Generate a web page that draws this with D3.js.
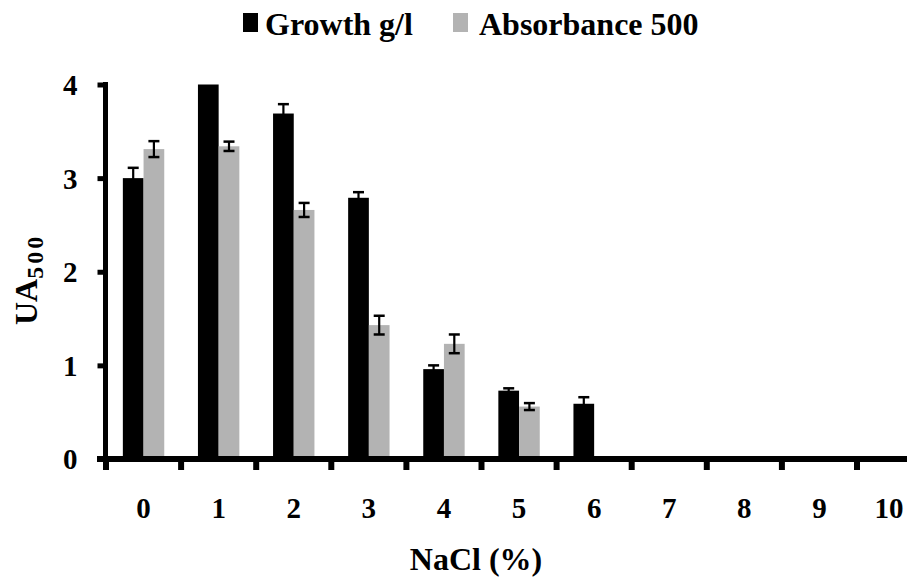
<!DOCTYPE html>
<html>
<head>
<meta charset="utf-8">
<script src="https://cdn.jsdelivr.net/npm/d3@7"></script>
<style>
  html, body { margin: 0; padding: 0; background: #fff; }
  svg { display: block; }
  text { font-family: "Liberation Serif", "Times New Roman", serif; font-weight: bold; fill: #000; }
</style>
</head>
<body>
<script>
const categories = ["0", "1", "2", "3", "4", "5", "6", "7", "8", "9", "10"];
const growth     = [3.00, 4.00, 3.69, 2.79, 0.96, 0.73, 0.59, 0, 0, 0, 0];
const growthErr  = [0.11, 0.00, 0.10, 0.06, 0.04, 0.025, 0.07, 0, 0, 0, 0];
const absorb     = [3.31, 3.34, 2.66, 1.43, 1.23, 0.56, 0, 0, 0, 0, 0];
const absorbErr  = [0.085, 0.05, 0.075, 0.10, 0.10, 0.037, 0, 0, 0, 0, 0];
const yTicks     = [0, 1, 2, 3, 4];
const seriesNames = ["Growth g/l", "Absorbance 500"];
const seriesColors = ["#000000", "#b3b3b3"];

const W = 907, H = 579;
const svg = d3.select("body").append("svg").attr("width", W).attr("height", H);

const bandW = 75.1;
const x0 = 106;
const x = d3.scaleBand().domain(categories).range([x0, x0 + bandW * categories.length]).padding(0);
const pad = (bandW - 41.4) / 2;
const xs = d3.scaleBand().domain([0, 1]).range([pad, pad + 41.4]).padding(0);
const y = d3.scaleLinear().domain([0, 4]).range([459, 84.5]);

const data = categories.map((c, i) => ({
  c,
  vals: [
    { s: 0, v: growth[i], e: growthErr[i] },
    { s: 1, v: absorb[i], e: absorbErr[i] }
  ]
}));

// bars
const g = svg.append("g");
const groups = g.selectAll("g.cat").data(data).join("g")
  .attr("transform", d => `translate(${x(d.c)},0)`);
groups.selectAll("rect").data(d => d.vals.filter(v => v.v > 0)).join("rect")
  .attr("x", d => xs(d.s))
  .attr("width", xs.bandwidth())
  .attr("y", d => y(d.v))
  .attr("height", d => y(0) - y(d.v))
  .attr("fill", d => seriesColors[d.s]);

// error bars
const eb = groups.selectAll("g.err").data(d => d.vals.filter(v => v.v > 0 && v.e > 0)).join("g");
const cap = 5.5;
eb.append("line")
  .attr("x1", d => xs(d.s) + xs.bandwidth() / 2).attr("x2", d => xs(d.s) + xs.bandwidth() / 2)
  .attr("y1", d => y(d.v + d.e)).attr("y2", d => y(d.v - d.e))
  .attr("stroke", "#000").attr("stroke-width", 2.2);
eb.append("line")
  .attr("x1", d => xs(d.s) + xs.bandwidth() / 2 - cap).attr("x2", d => xs(d.s) + xs.bandwidth() / 2 + cap)
  .attr("y1", d => y(d.v + d.e)).attr("y2", d => y(d.v + d.e))
  .attr("stroke", "#000").attr("stroke-width", 2.5);
eb.append("line")
  .attr("x1", d => xs(d.s) + xs.bandwidth() / 2 - cap).attr("x2", d => xs(d.s) + xs.bandwidth() / 2 + cap)
  .attr("y1", d => y(d.v - d.e)).attr("y2", d => y(d.v - d.e))
  .attr("stroke", "#000").attr("stroke-width", 2.5);

// y axis
const yAxis = d3.axisLeft(y).tickValues(yTicks).tickFormat(d3.format("d")).tickSize(8).tickPadding(20);
const ya = svg.append("g").attr("transform", "translate(105.5,0)").call(yAxis);
ya.select(".domain").remove();
ya.selectAll(".tick line").attr("stroke", "#000").attr("stroke-width", 5);
ya.selectAll(".tick text").attr("font-size", 29).attr("dy", "0.34em")
  .style("font-family", "'Liberation Serif', serif").style("font-weight", "bold");
svg.append("line").attr("x1", 105.5).attr("x2", 105.5).attr("y1", y(4) - 2.5).attr("y2", y(0))
  .attr("stroke", "#000").attr("stroke-width", 5);

// x axis
const xRight = x0 + bandW * categories.length;
svg.append("line").attr("x1", 97).attr("x2", xRight).attr("y1", y(0)).attr("y2", y(0))
  .attr("stroke", "#000").attr("stroke-width", 6);
const bounds = categories.map(c => x(c)).concat([xRight]);
svg.selectAll("line.xt").data(bounds).join("line").attr("class", "xt")
  .attr("x1", d => d).attr("x2", d => d).attr("y1", y(0)).attr("y2", 470)
  .attr("stroke", "#000").attr("stroke-width", 6);
svg.selectAll("text.xl").data(categories).join("text").attr("class", "xl")
  .attr("x", d => Math.min(x(d) + x.bandwidth() / 2, W - 18)).attr("y", 518)
  .attr("text-anchor", "middle").attr("font-size", 29).text(d => d);

// axis titles
svg.append("text").attr("x", 476).attr("y", 570).attr("text-anchor", "middle")
  .attr("font-size", 32).text("NaCl (%)");
const yt = svg.append("text").attr("transform", "translate(37,325) rotate(-90)")
  .attr("font-size", 32);
yt.append("tspan").text("UA");
yt.append("tspan").attr("font-size", 24).attr("dy", 6).attr("letter-spacing", 3).text("500");

// legend
const legX = [243, 453], legT = [265, 479];
seriesNames.forEach((n, i) => {
  svg.append("rect").attr("x", legX[i]).attr("y", 13).attr("width", 15).attr("height", 19)
    .attr("fill", seriesColors[i]);
  svg.append("text").attr("x", legT[i]).attr("y", 35).attr("font-size", 32).text(n);
});
</script>
</body>
</html>
